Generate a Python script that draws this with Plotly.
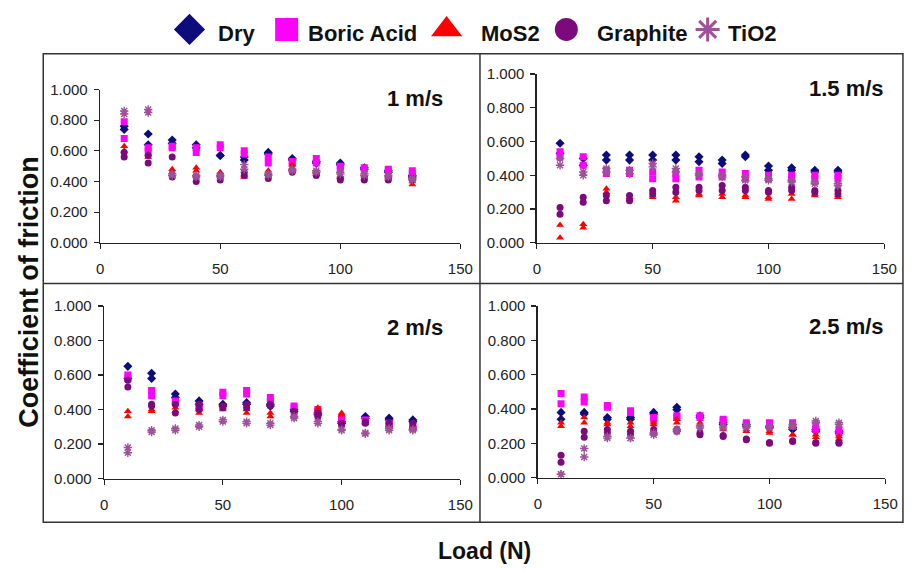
import plotly.graph_objects as go

W, H = 913, 572

loads = [10, 20, 30, 40, 50, 60, 70, 80, 90, 100, 110, 120, 130]
series_names = ["Dry", "Boric Acid", "MoS2", "Graphite", "TiO2"]
panel_titles = ["1 m/s", "1.5 m/s", "2 m/s", "2.5 m/s"]
x_ticks = [0, 50, 100, 150]
y_ticks = [0, 0.2, 0.4, 0.6, 0.8, 1.0]

# --- 1 m/s (two readings per load) ---
dry_1 = [(0.76, 0.74), (0.71, 0.64), (0.67, 0.65), (0.64, 0.62), (0.57, 0.57), (0.56, 0.54), (0.59, 0.58),
         (0.55, 0.54), (0.53, 0.52), (0.52, 0.51), (0.49, 0.48), (0.47, 0.46), (0.44, 0.43)]
boric_1 = [(0.79, 0.68), (0.62, 0.60), (0.63, 0.62), (0.62, 0.59), (0.64, 0.62), (0.60, 0.58), (0.56, 0.52),
           (0.53, 0.52), (0.55, 0.52), (0.50, 0.49), (0.49, 0.48), (0.48, 0.47), (0.47, 0.45)]
mos2_1 = [(0.63, 0.60), (0.58, 0.56), (0.48, 0.46), (0.49, 0.47), (0.46, 0.45), (0.44, 0.43), (0.47, 0.45),
          (0.51, 0.49), (0.46, 0.45), (0.44, 0.43), (0.44, 0.42), (0.43, 0.42), (0.40, 0.38)]
graph_1 = [(0.59, 0.56), (0.57, 0.52), (0.56, 0.43), (0.43, 0.40), (0.43, 0.41), (0.46, 0.44), (0.44, 0.42),
           (0.47, 0.46), (0.45, 0.44), (0.42, 0.41), (0.43, 0.41), (0.43, 0.41), (0.42, 0.41)]
tio2_1 = [(0.86, 0.84), (0.87, 0.85), (0.45, 0.44), (0.44, 0.43), (0.44, 0.43), (0.51, 0.48), (0.45, 0.44),
          (0.48, 0.47), (0.47, 0.46), (0.46, 0.45), (0.45, 0.44), (0.44, 0.43), (0.42, 0.41)]

# --- 1.5 m/s ---
dry_2 = [(0.59, 0.53), (0.50, 0.46), (0.52, 0.49), (0.52, 0.49), (0.52, 0.49), (0.52, 0.49), (0.51, 0.48),
         (0.49, 0.47), (0.52, 0.51), (0.455, 0.43), (0.445, 0.43), (0.43, 0.42), (0.43, 0.42)]
boric_2 = [(0.54, 0.51), (0.51, 0.46), (0.43, 0.41), (0.43, 0.41), (0.42, 0.38), (0.41, 0.38), (0.43, 0.39),
           (0.42, 0.39), (0.41, 0.38), (0.40, 0.38), (0.40, 0.38), (0.40, 0.38), (0.40, 0.38)]
mos2_2 = [(0.105, 0.03), (0.11, 0.09), (0.32, 0.30), (0.27, 0.26), (0.28, 0.27), (0.27, 0.25), (0.29, 0.28),
          (0.29, 0.27), (0.28, 0.27), (0.27, 0.26), (0.29, 0.26), (0.29, 0.28), (0.28, 0.27)]
graph_2 = [(0.21, 0.17), (0.27, 0.24), (0.28, 0.25), (0.28, 0.25), (0.31, 0.29), (0.33, 0.30), (0.33, 0.31),
           (0.34, 0.31), (0.33, 0.31), (0.31, 0.30), (0.33, 0.31), (0.31, 0.30), (0.31, 0.29)]
tio2_2 = [(0.50, 0.46), (0.42, 0.40), (0.44, 0.42), (0.43, 0.41), (0.47, 0.45), (0.44, 0.42), (0.41, 0.40),
          (0.40, 0.39), (0.39, 0.37), (0.38, 0.37), (0.37, 0.36), (0.36, 0.35), (0.35, 0.34)]

# --- 2 m/s ---
dry_3 = [(0.65, 0.58), (0.61, 0.58), (0.49, 0.47), (0.45, 0.43), (0.43, 0.42), (0.44, 0.43), (0.43, 0.42),
         (0.40, 0.39), (0.38, 0.37), (0.33, 0.32), (0.36, 0.35), (0.35, 0.34), (0.34, 0.33)]
boric_3 = [(0.60, 0.58), (0.51, 0.48), (0.45, 0.44), (0.42, 0.41), (0.50, 0.48), (0.51, 0.49), (0.47, 0.45),
           (0.42, 0.41), (0.40, 0.38), (0.35, 0.34), (0.34, 0.33), (0.32, 0.31), (0.30, 0.29)]
mos2_3 = [(0.39, 0.36), (0.40, 0.39), (0.41, 0.39), (0.40, 0.38), (0.41, 0.40), (0.40, 0.38), (0.38, 0.36),
          (0.37, 0.36), (0.41, 0.40), (0.38, 0.37), (0.33, 0.32), (0.31, 0.30), (0.31, 0.30)]
graph_3 = [(0.57, 0.53), (0.43, 0.42), (0.43, 0.38), (0.43, 0.40), (0.42, 0.41), (0.43, 0.41), (0.43, 0.42),
           (0.39, 0.38), (0.38, 0.36), (0.32, 0.31), (0.33, 0.32), (0.32, 0.30), (0.32, 0.29)]
tio2_3 = [(0.18, 0.15), (0.28, 0.27), (0.29, 0.28), (0.31, 0.30), (0.34, 0.33), (0.33, 0.32), (0.32, 0.31),
          (0.36, 0.35), (0.33, 0.32), (0.285, 0.28), (0.265, 0.26), (0.29, 0.28), (0.285, 0.28)]

# --- 2.5 m/s ---
dry_4 = [(0.38, 0.34), (0.38, 0.37), (0.35, 0.34), (0.35, 0.34), (0.38, 0.37), (0.41, 0.395), (0.36, 0.35),
         (0.32, 0.31), (0.31, 0.30), (0.30, 0.29), (0.29, 0.28), (0.28, 0.27), (0.27, 0.26)]
boric_4 = [(0.49, 0.43), (0.47, 0.44), (0.42, 0.41), (0.39, 0.38), (0.35, 0.34), (0.36, 0.35), (0.36, 0.35),
           (0.34, 0.33), (0.32, 0.31), (0.32, 0.31), (0.32, 0.30), (0.30, 0.28), (0.28, 0.26)]
mos2_4 = [(0.32, 0.30), (0.35, 0.32), (0.32, 0.31), (0.32, 0.30), (0.32, 0.31), (0.34, 0.32), (0.32, 0.31),
          (0.29, 0.28), (0.28, 0.27), (0.27, 0.26), (0.25, 0.25), (0.25, 0.235), (0.24, 0.225)]
graph_4 = [(0.13, 0.09), (0.27, 0.235), (0.28, 0.26), (0.27, 0.25), (0.28, 0.26), (0.28, 0.27), (0.26, 0.25),
           (0.245, 0.24), (0.225, 0.22), (0.205, 0.20), (0.215, 0.21), (0.205, 0.20), (0.205, 0.20)]
tio2_4 = [(0.02, 0.02), (0.17, 0.12), (0.24, 0.23), (0.23, 0.23), (0.26, 0.25), (0.28, 0.27), (0.30, 0.29),
          (0.30, 0.29), (0.30, 0.29), (0.30, 0.29), (0.31, 0.30), (0.33, 0.32), (0.32, 0.31)]

panels = [
    [dry_1, boric_1, mos2_1, graph_1, tio2_1],
    [dry_2, boric_2, mos2_2, graph_2, tio2_2],
    [dry_3, boric_3, mos2_3, graph_3, tio2_3],
    [dry_4, boric_4, mos2_4, graph_4, tio2_4],
]

styles = [
    dict(symbol="diamond", color="#0C0C7C", size=7, leg=24),
    dict(symbol="square", color="#FF00FF", size=7, leg=23),
    dict(symbol="triangle-up", color="#FF0000", size=7, leg=27),
    dict(symbol="circle", color="#7C0A7C", size=7, leg=23),
    dict(symbol="asterisk-open", color="#A0509A", size=7, leg=20),
]

FONT = "Arial, Liberation Sans, sans-serif"

# panel pixel boxes (left, right, top, bottom) of the plotting areas
boxes = [(98, 465, 83, 241), (543, 897, 67, 241), (102, 465, 306, 484), (544, 898, 306, 483)]
# legend layout in pixels: symbol centre x, text left x
legend_sym_x = [189, 288, 451, 573, 717]
legend_txt_x = [216, 308, 484, 602, 736]


def px(x):
    return x / W


def py(y):
    return 1 - y / H


fig = go.Figure()

for i, data in enumerate(panels):
    xa = "x" if i == 0 else f"x{i + 1}"
    ya = "y" if i == 0 else f"y{i + 1}"
    for s, vals in enumerate(data):
        st = styles[s]
        xs = loads + loads
        ys = [v[0] for v in vals] + [v[1] for v in vals]
        line = dict(color=st["color"], width=1.4) if "asterisk" in st["symbol"] else dict(width=0)
        fig.add_trace(go.Scatter(
            x=xs, y=ys, mode="markers", xaxis=xa, yaxis=ya, showlegend=False, name=series_names[s],
            marker=dict(symbol=st["symbol"], color=st["color"], size=st["size"], line=line),
        ))

# custom legend drawn on a pixel-scaled overlay axis
for s, name in enumerate(series_names):
    st = styles[s]
    line = dict(color=st["color"], width=3) if "asterisk" in st["symbol"] else dict(width=0)
    fig.add_trace(go.Scatter(
        x=[legend_sym_x[s]], y=[21], mode="markers", xaxis="x5", yaxis="y5", showlegend=False,
        hoverinfo="skip",
        marker=dict(symbol=st["symbol"], color=st["color"], size=st["leg"], line=line),
    ))

axis_common = dict(
    showgrid=False, zeroline=False, showline=True, linecolor="#222", linewidth=1.5,
    ticks="outside", ticklen=5, tickcolor="#222", tickwidth=1.2,
    tickfont=dict(family=FONT, size=15, color="#222"),
)

layout = {}
for i, (l, r, t, b) in enumerate(boxes):
    sfx = "" if i == 0 else str(i + 1)
    anchor_x = "y" if i == 0 else f"y{i + 1}"
    anchor_y = "x" if i == 0 else f"x{i + 1}"
    layout[f"xaxis{sfx}"] = dict(axis_common, domain=[px(l), px(r)], range=[0, 150],
                                 tickvals=x_ticks, anchor=anchor_x, ticklabelstandoff=7)
    layout[f"yaxis{sfx}"] = dict(axis_common, domain=[py(b), py(t)], range=[0, 1.0],
                                 tickvals=y_ticks, tickformat=".3f", anchor=anchor_y, ticklabelstandoff=3)

layout["xaxis5"] = dict(domain=[0, 1], range=[0, W], visible=False, anchor="y5", fixedrange=True)
layout["yaxis5"] = dict(domain=[py(45), 1], range=[45, 0], visible=False, anchor="x5", fixedrange=True)

fig.update_layout(**layout)

annotations = []
for s, name in enumerate(series_names):
    annotations.append(dict(x=legend_txt_x[s], y=25, xref="x5", yref="y5", text=f"<b>{name}</b>",
                            showarrow=False, xanchor="left", yanchor="middle",
                            font=dict(family=FONT, size=22, color="#111")))

title_pos = [(419, 92), (858, 82), (419, 328), (858, 327)]
for (x, y), txt in zip(title_pos, panel_titles):
    annotations.append(dict(x=px(x), y=py(y), xref="paper", yref="paper", text=f"<b>{txt}</b>",
                            showarrow=False, font=dict(family=FONT, size=22, color="#111"),
                            xanchor="center", yanchor="middle"))
annotations.append(dict(x=px(26), y=py(292), xref="paper", yref="paper", text="<b>Coefficient of friction</b>",
                        textangle=-90, showarrow=False,
                        font=dict(family=FONT, size=27, color="#111"),
                        xanchor="center", yanchor="middle"))
annotations.append(dict(x=px(490), y=py(559), xref="paper", yref="paper", text="<b>Load (N)</b>",
                        showarrow=False, font=dict(family=FONT, size=23, color="#111"),
                        xanchor="center", yanchor="middle"))

frame_line = dict(color="#333", width=1.5)
shapes = [
    dict(type="rect", xref="paper", yref="paper", x0=px(40), x1=px(916), y0=py(529), y1=py(46), line=frame_line),
    dict(type="line", xref="paper", yref="paper", x0=px(485), x1=px(485), y0=py(529), y1=py(46), line=frame_line),
    dict(type="line", xref="paper", yref="paper", x0=px(40), x1=px(916), y0=py(283), y1=py(283), line=frame_line),
]

fig.update_layout(
    width=W, height=H,
    margin=dict(l=0, r=0, t=0, b=0),
    paper_bgcolor="white", plot_bgcolor="white",
    annotations=annotations, shapes=shapes,
    showlegend=False,
)

fig.write_html(
    "out.html",
    config={"displayModeBar": False, "staticPlot": True},
    post_script="document.body.style.margin='0px';document.body.style.overflow='hidden';",
)
